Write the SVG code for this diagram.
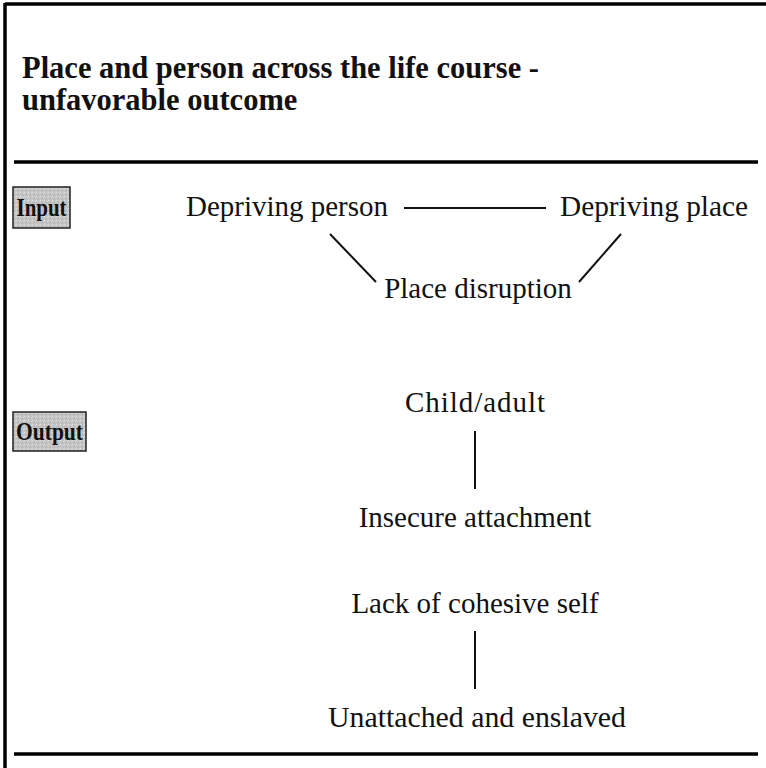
<svg xmlns="http://www.w3.org/2000/svg" width="766" height="768" viewBox="0 0 766 768">
<style>
.t{font-family:"Liberation Serif","DejaVu Serif",serif;font-size:29px;fill:#111;text-anchor:middle}
.h{font-family:"Liberation Serif","DejaVu Serif",serif;font-size:30.5px;font-weight:bold;fill:#111}
.lb{font-family:"Liberation Serif","DejaVu Serif",serif;font-size:26px;font-weight:bold;fill:#111;text-anchor:middle}
.bx{fill:url(#grain);stroke:#222;stroke-width:1.5}
.c{stroke:#111;stroke-width:2;fill:none}
.r{stroke:#000;stroke-width:3.5}
</style>
<defs>
<pattern id="grain" width="4" height="4" patternUnits="userSpaceOnUse">
<rect width="4" height="4" fill="#c4c4c4"/>
<rect x="0" y="0" width="1" height="1" fill="#e4e4e4"/>
<rect x="2" y="2" width="1" height="1" fill="#a8a8a8"/>
<rect x="3" y="1" width="1" height="1" fill="#dadada"/>
</pattern>
</defs>
<rect width="766" height="768" fill="#fff"/>
<g id="frame">
<line class="r" x1="5" y1="4" x2="766" y2="4" stroke-width="3"/>
<line class="r" x1="5" y1="3" x2="5" y2="768" stroke-width="3"/>
<line class="r" x1="14" y1="162" x2="758" y2="162"/>
<line class="r" x1="14" y1="754" x2="758" y2="754"/>
</g>
<g id="title">
<text class="h" x="22" y="78">Place and person across the life course -</text>
<text class="h" x="22" y="110">unfavorable outcome</text>
</g>
<g id="input-label"><rect class="bx" x="13" y="187" width="57" height="41"/><text class="lb" x="41.5" y="216" textLength="50" lengthAdjust="spacingAndGlyphs">Input</text></g>
<g id="output-label"><rect class="bx" x="13" y="412" width="73" height="39"/><text class="lb" x="49.5" y="440" textLength="67" lengthAdjust="spacingAndGlyphs">Output</text></g>
<g id="connectors">
<line class="c" x1="404" y1="208" x2="546" y2="208"/>
<line class="c" x1="330" y1="234" x2="376" y2="282"/>
<line class="c" x1="621" y1="234" x2="579" y2="282"/>
<line class="c" x1="475" y1="431" x2="475" y2="489"/>
<line class="c" x1="475" y1="631" x2="475" y2="689"/>
</g>
<g id="n-depriving-person"><text class="t" x="287" y="216" textLength="202" lengthAdjust="spacingAndGlyphs">Depriving person</text></g>
<g id="n-depriving-place"><text class="t" x="654" y="216" textLength="188" lengthAdjust="spacingAndGlyphs">Depriving place</text></g>
<g id="n-place-disruption"><text class="t" x="478" y="298">Place disruption</text></g>
<g id="n-child-adult"><text class="t" x="475" y="412" textLength="140" lengthAdjust="spacing">Child/adult</text></g>
<g id="n-insecure"><text class="t" x="475" y="527">Insecure attachment</text></g>
<g id="n-lack"><text class="t" x="475" y="613">Lack of cohesive self</text></g>
<g id="n-unattached"><text class="t" x="477" y="727" textLength="298" lengthAdjust="spacingAndGlyphs">Unattached and enslaved</text></g>
</svg>
